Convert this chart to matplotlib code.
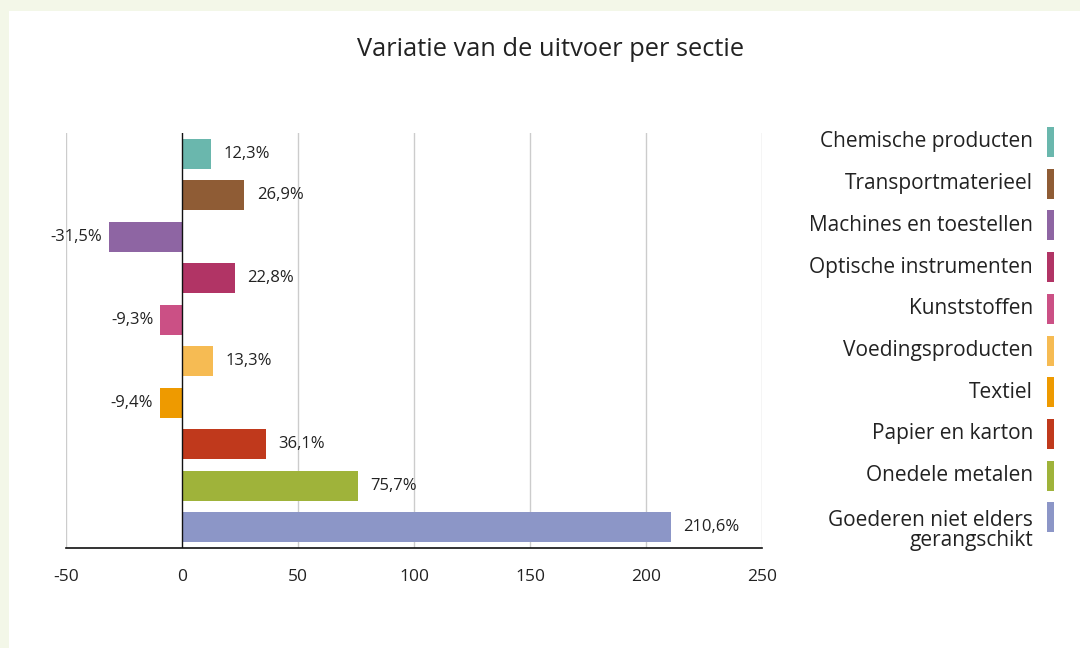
import matplotlib
matplotlib.use("Agg")
import matplotlib.pyplot as plt
from matplotlib.patches import Rectangle

plt.rcParams['font.family'] = ['Open Sans', 'DejaVu Sans']

categories = ["Chemische producten", "Transportmaterieel", "Machines en toestellen",
              "Optische instrumenten", "Kunststoffen", "Voedingsproducten", "Textiel",
              "Papier en karton", "Onedele metalen", "Goederen niet elders\ngerangschikt"]
values = [12.3, 26.9, -31.5, 22.8, -9.3, 13.3, -9.4, 36.1, 75.7, 210.6]
colors = ["#6ab7ad", "#8f5c35", "#8e65a3", "#b13465", "#cb5085",
          "#f6bb53", "#ee9a00", "#c0391c", "#9fb33a", "#8c96c7"]
xticks = [-50, 0, 50, 100, 150, 200, 250]
title = "Variatie van de uitvoer per sectie"

fig = plt.figure(figsize=(10.8, 6.48), dpi=100)
fig.patch.set_facecolor("#f3f7e8")
fig.add_artist(Rectangle((9/1080, 0), 1 - 9/1080, 1 - 11/648, transform=fig.transFigure,
                         facecolor="white", edgecolor="none", zorder=0))

ax = fig.add_axes([66/1080, 1 - 548/648, 696/1080, 415/648])
ax.set_facecolor("none")
ypos = list(range(len(values)))
ax.barh(ypos, values, height=0.72, color=colors, zorder=3)
ax.set_ylim(len(values) - 0.5, -0.5)
ax.set_xlim(-50, 250)
ax.set_xticks(xticks)
ax.set_xticklabels([str(t) for t in xticks], fontsize=12.5, color="#222222")
ax.set_yticks([])
for t in xticks:
    if t != 0:
        ax.axvline(t, color="#cccccc", lw=1, zorder=1)
ax.axvline(0, color="#111111", lw=1, zorder=4)
for s in ["top", "right", "left"]:
    ax.spines[s].set_visible(False)
ax.spines["bottom"].set_color("#111111")
ax.spines["bottom"].set_linewidth(1.2)
ax.tick_params(axis="x", length=0, pad=15)

for y, v in zip(ypos, values):
    lab = f"{v:.1f}%".replace(".", ",")
    if v >= 0:
        ax.annotate(lab, (v, y), xytext=(9, 0), textcoords="offset points",
                    ha="left", va="center", fontsize=12, color="#222222")
    else:
        ax.annotate(lab, (v, y), xytext=(-5, 0), textcoords="offset points",
                    ha="right", va="center", fontsize=12, color="#222222")

fig.text(551/1080, 1 - 50/648, title, ha="center", va="center", fontsize=18.3, color="#222222")

# Legend
for i, (c, col) in enumerate(zip(categories, colors)):
    yc = 142 + i * 41.7
    fig.add_artist(Rectangle((1047/1080, 1 - (yc + 15)/648), 7/1080, 30/648,
                             transform=fig.transFigure, facecolor=col, edgecolor="none"))
    if "\n" in c:
        fig.text(1033/1080, 1 - (yc - 7)/648, c, ha="right", va="top", fontsize=15,
                 color="#222222", linespacing=0.9, multialignment="right")
    else:
        fig.text(1033/1080, 1 - yc/648, c, ha="right", va="center", fontsize=15, color="#222222")

fig.savefig("out.png", dpi=100, facecolor=fig.get_facecolor())
